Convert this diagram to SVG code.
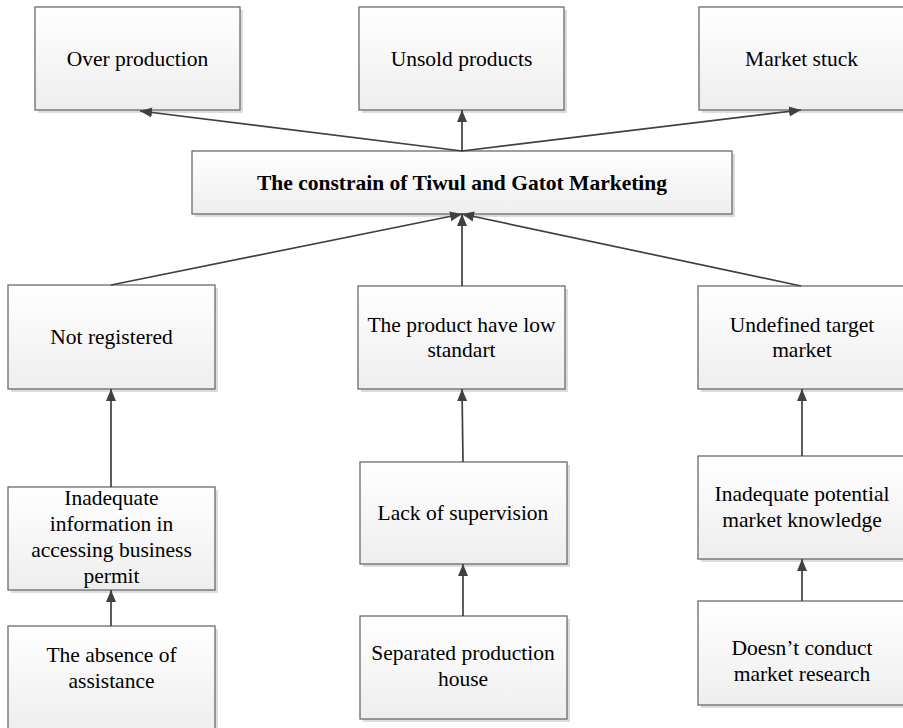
<svg xmlns="http://www.w3.org/2000/svg" width="903" height="728" viewBox="0 0 903 728">
<style>
.box{fill:url(#g);stroke:#6a6a6a;stroke-width:1.3}
.sh{fill:#dcdcdc}
text{font-family:'Liberation Serif',Tinos,'Times New Roman',Times,'Nimbus Roman','DejaVu Serif',serif;font-size:21.5px;fill:#000;text-anchor:middle}
.b{font-weight:bold}
.c{stroke:#404040;stroke-width:1.7;fill:none;marker-end:url(#ah)}
</style>
<defs>
<linearGradient id="g" x1="0" y1="0" x2="0" y2="1">
<stop offset="0" stop-color="#ffffff"/>
<stop offset="1" stop-color="#eeeeee"/>
</linearGradient>
<marker id="ah" markerUnits="userSpaceOnUse" markerWidth="13" markerHeight="11" refX="12" refY="5" orient="auto" viewBox="0 0 13 10">
<path d="M0,0 L12,5 L0,10 z" fill="#404040"/>
</marker>
</defs>
<g id="over-production">
<rect class="sh" x="38" y="10" width="205" height="103"/>
<rect class="box" x="35" y="7" width="205" height="103"/>
<text x="137.5" y="65.5">Over production</text>
</g>
<g id="unsold-products">
<rect class="sh" x="362" y="10" width="205" height="103"/>
<rect class="box" x="359" y="7" width="205" height="103"/>
<text x="461.5" y="65.5">Unsold products</text>
</g>
<g id="market-stuck">
<rect class="sh" x="702" y="10" width="205" height="103"/>
<rect class="box" x="699" y="7" width="205" height="103"/>
<text x="801.5" y="65.5">Market stuck</text>
</g>
<g id="constrain">
<rect class="sh" x="195" y="154" width="540" height="63"/>
<rect class="box" x="192" y="151" width="540" height="63"/>
<text class="b" x="462" y="189.5">The constrain of Tiwul and Gatot Marketing</text>
</g>
<g id="not-registered">
<rect class="sh" x="11" y="288" width="207" height="104"/>
<rect class="box" x="8" y="285" width="207" height="104"/>
<text x="111.5" y="344">Not registered</text>
</g>
<g id="low-standart">
<rect class="sh" x="361" y="289" width="207" height="103"/>
<rect class="box" x="358" y="286" width="207" height="103"/>
<text x="461.5" y="331.7">The product have low</text>
<text x="461.5" y="357.3">standart</text>
</g>
<g id="undefined-target">
<rect class="sh" x="701" y="289" width="207" height="103"/>
<rect class="box" x="698" y="286" width="207" height="103"/>
<text x="802" y="331.7">Undefined target</text>
<text x="802" y="356.7">market</text>
</g>
<g id="inadequate-information">
<rect class="sh" x="11" y="490" width="207" height="103"/>
<rect class="box" x="8" y="487" width="207" height="103"/>
<text x="111.5" y="505">Inadequate</text>
<text x="111.5" y="531">information in</text>
<text x="111.5" y="556.7">accessing business</text>
<text x="111.5" y="582.5">permit</text>
</g>
<g id="lack-supervision">
<rect class="sh" x="363" y="465" width="207" height="102"/>
<rect class="box" x="360" y="462" width="207" height="102"/>
<text x="463" y="519.5">Lack of supervision</text>
</g>
<g id="inadequate-potential">
<rect class="sh" x="701" y="459" width="207" height="103"/>
<rect class="box" x="698" y="456" width="207" height="103"/>
<text x="802" y="501">Inadequate potential</text>
<text x="802" y="526.7">market knowledge</text>
</g>
<g id="absence-assistance">
<rect class="sh" x="11" y="629" width="207" height="104"/>
<rect class="box" x="8" y="626" width="207" height="104"/>
<text x="111.5" y="662.3">The absence of</text>
<text x="111.5" y="687.7">assistance</text>
</g>
<g id="separated-production">
<rect class="sh" x="363" y="619" width="207" height="103"/>
<rect class="box" x="360" y="616" width="207" height="103"/>
<text x="463" y="660">Separated production</text>
<text x="463" y="686">house</text>
</g>
<g id="market-research">
<rect class="sh" x="701" y="604" width="207" height="104"/>
<rect class="box" x="698" y="601" width="207" height="104"/>
<text x="802" y="655">Doesn’t conduct</text>
<text x="802" y="681">market research</text>
</g>
<g id="connectors">
<line class="c" x1="462" y1="151" x2="140" y2="111"/>
<line class="c" x1="462" y1="151" x2="462" y2="110"/>
<line class="c" x1="462" y1="151" x2="801" y2="110"/>
<line class="c" x1="111" y1="285" x2="462" y2="214"/>
<line class="c" x1="462" y1="286" x2="462" y2="214"/>
<line class="c" x1="801" y1="286" x2="462" y2="214"/>
<line class="c" x1="111" y1="487" x2="111" y2="389"/>
<line class="c" x1="463" y1="462" x2="462" y2="389"/>
<line class="c" x1="802" y1="456" x2="802" y2="389"/>
<line class="c" x1="111" y1="626" x2="111" y2="590"/>
<line class="c" x1="463" y1="616" x2="463" y2="564"/>
<line class="c" x1="802" y1="601" x2="802" y2="559"/>
</g>
</svg>
